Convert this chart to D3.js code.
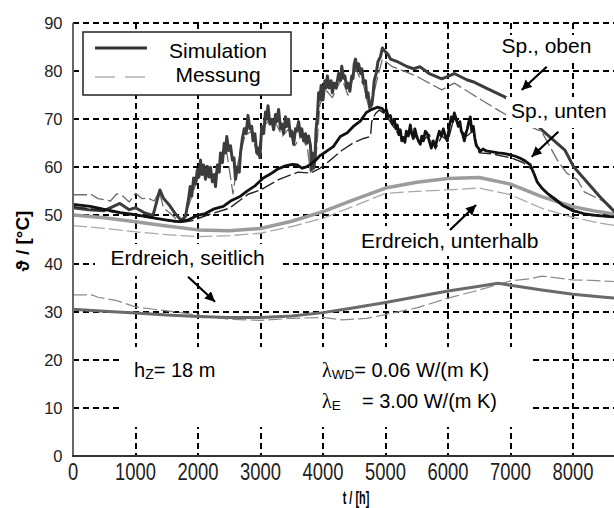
<!DOCTYPE html>
<html lang="de">
<head>
<meta charset="utf-8">
<title>Speicher Temperaturen</title>
<script src="https://d3js.org/d3.v7.min.js"></script>
<style>
  body { margin: 0; background: #fff; }
  svg text { font-family: "Liberation Sans", Arial, sans-serif; fill: #000; }
  .lbl { font-size: 21px; }
</style>
</head>
<body>
<script>
// axis ticks
const xTickVals = [0, 1000, 2000, 3000, 4000, 5000, 6000, 7000, 8000];
const yTickVals = [0, 10, 20, 30, 40, 50, 60, 70, 80, 90];

// [t in h, temperature in °C]
const spObenSim = [[0,51.6],[250,51.2],[500,51.0],[750,52.5],[900,51.2],[1000,51.6],[1150,50.5],[1280,50.0],[1390,55.3],[1450,53.5],[1550,52.0],[1640,50.3],[1730,49.0],[1800,49.8],
  [1850,53.5],[1875,56.0],[1900,54.0],[1930,57.8],[1960,56.5],[1990,59.5],[2015,58.0],[2040,61.5],[2065,58.5],[2090,60.5],[2120,57.5],[2150,60.2],[2180,58.0],[2200,60.0],[2230,57.0],[2260,58.5],[2280,56.0],[2310,60.5],[2340,59.0],[2360,63.0],[2390,61.0],[2420,65.0],[2440,63.0],[2460,66.4],[2490,63.5],[2520,64.5],[2550,61.5],[2575,62.0],[2600,57.5],[2630,60.0],[2660,59.0],[2680,63.0],[2710,66.0],[2740,68.0],[2770,67.0],[2800,70.8],[2830,68.0],[2860,68.5],[2880,65.5],[2910,67.0],[2940,63.0],[2960,64.0],[2990,62.0],[3020,68.5],[3050,67.0],[3080,71.5],[3100,70.0],[3120,72.8],[3150,69.0],[3180,70.0],[3210,67.8],[3240,71.0],[3260,69.5],[3290,72.0],[3320,68.0],[3340,69.0],[3370,67.0],[3400,70.5],[3420,68.5],[3450,70.0],[3480,66.5],[3500,67.5],[3530,64.8],[3560,68.0],[3580,67.5],[3610,69.5],[3640,66.5],[3660,68.0],[3690,65.5],[3720,67.0],[3740,65.0],[3770,66.5],[3800,64.5],[3815,59.5],[3830,63.0],[3850,59.8],[3870,61.5],[3890,68.0],[3910,70.5],[3930,75.5],[3950,74.0],[3970,77.0],[4000,74.0],[4030,78.0],[4050,76.5],[4070,79.0],[4100,76.5],[4130,78.0],[4150,75.5],[4180,77.5],[4210,76.5],[4250,79.5],[4280,78.0],[4300,81.0],[4330,78.5],[4350,79.0],[4380,76.5],[4400,77.5],[4430,75.8],[4460,79.0],[4480,78.5],[4500,81.5],[4520,82.5],[4545,80.5],[4570,81.5],[4600,79.5],[4620,80.5],[4650,77.5],[4680,78.0],[4700,74.5],[4720,75.5],[4750,72.5],[4780,73.0],[4800,75.0],[4820,78.0],[4850,79.5],[4880,82.0],[4920,83.0],[4950,84.8],[5000,84.0],[5040,83.5],[5080,82.5],
  [5200,81.9],[5350,80.9],[5450,80.5],[5550,80.9],[5700,79.5],[5900,78.4],[6000,78.9],[6100,79.5],[6300,78.2],[6400,77.8],[6620,76.4],[6900,74.7],[7050,73.5],[7300,70.5],[7500,67.8],[7870,63.6],[8010,60.1],[8220,57.0],[8430,53.9],[8640,51.1],[8760,49.5]];
const spObenMess = [[0,54.3],[300,54.3],[400,53.5],[600,53.0],[700,54.5],[800,54.0],[900,52.8],[1000,54.6],[1100,53.5],[1200,53.6],[1300,53.0],[1380,55.0],[1450,51.5],[1550,50.5],[1650,49.3],[1750,48.8],
  [1850,52.0],[1950,56.0],[2050,59.5],[2150,58.0],[2250,57.5],[2350,61.0],[2450,64.0],[2560,54.5],[2620,60.0],[2750,66.5],[2850,67.5],[2950,62.5],[3050,68.5],[3150,70.0],[3250,69.0],[3350,66.5],[3450,68.0],[3550,64.5],[3650,66.5],[3750,64.0],[3800,59.0],[3880,60.5],[3950,73.0],[4050,76.0],[4150,74.5],[4300,78.5],[4400,75.0],[4520,80.5],[4650,77.0],[4750,71.5],[4850,77.5],[4950,82.5],
  [5100,81.0],[5300,80.0],[5500,78.9],[5600,78.2],[5800,76.8],[5900,76.1],[6100,77.5],[6400,75.1],[6750,72.3],[7050,70.0],[7500,67.4],[7750,61.5],[7900,58.8],[8070,57.4],[8180,54.9],[8450,53.2],[8760,50.5]];
const spUntenSim = [[0,52.3],[277,51.9],[485,51.3],[757,50.6],[965,50.2],[1285,49.5],[1477,49.1],[1685,48.7],[1830,49.0],[1990,50.0],[2117,50.4],[2245,51.3],[2405,51.9],[2520,53.0],[2680,54.0],[2790,55.1],[2917,56.2],[3045,57.8],[3157,58.6],[3270,59.6],[3397,60.3],[3510,60.6],[3590,60.5],[3670,59.8],[3733,60.1],[3797,60.6],[3893,61.6],[3957,62.5],[4053,63.3],[4165,64.3],[4277,66.4],[4389,67.2],[4485,68.5],[4597,69.6],[4693,71.4],[4773,72.0],[4869,72.5],
  [4949,72.2],[4975,71.5],[5013,72.0],[5045,70.5],[5077,70.8],[5110,69.0],[5141,70.0],[5165,68.0],[5189,68.8],[5213,66.8],[5237,67.8],[5260,65.5],[5285,66.2],[5310,65.2],[5333,67.5],[5365,66.5],[5397,68.8],[5420,67.0],[5445,66.0],[5470,68.0],[5493,66.8],[5525,65.5],[5557,64.8],[5580,66.5],[5605,65.5],[5637,67.5],[5669,67.0],[5700,65.5],[5733,64.0],[5765,65.5],[5797,64.3],[5830,66.0],[5861,67.5],[5893,66.5],[5925,68.0],[5957,66.5],[5989,65.5],[6020,68.5],[6053,70.5],[6077,69.5],[6101,71.3],[6133,70.0],[6165,68.5],[6190,69.5],[6213,67.5],[6237,66.8],[6261,65.5],[6285,67.0],[6309,68.0],[6333,69.5],[6357,70.5],[6380,67.5],[6405,68.5],[6430,66.0],[6453,64.5],[6485,64.0],[6517,63.3],[6560,63.8],[6613,63.4],
  [6709,63.2],[6805,63.0],[6885,62.9],[6997,62.6],[7077,62.3],[7157,61.9],[7237,61.3],[7317,60.5],[7381,58.5],[7429,56.9],[7509,55.6],[7589,54.6],[7717,53.4],[7845,52.0],[8005,51.0],[8165,50.4],[8357,50.0],[8549,49.8],[8760,49.6]];
const spUntenMess = [[0,51.8],[500,51.0],[1000,50.0],[1500,49.0],[1700,48.5],[1900,48.9],[2200,50.3],[2500,51.5],[2800,54.4],[3000,55.3],[3300,57.5],[3600,59.0],[3800,58.8],[3950,59.8],[4100,61.3],[4300,63.5],[4500,65.2],[4650,66.0],[4760,66.4],[4780,69.5],[4840,71.2],[4900,71.9],[5000,71.0],[5100,69.0],[5200,67.0],[5300,66.0],[5400,67.8],[5500,66.0],[5600,65.5],[5700,66.8],[5800,63.8],[5900,66.5],[6000,65.5],[6100,70.5],[6200,67.8],[6300,66.5],[6400,67.5],[6500,63.0],[6700,62.8],[7000,62.0],[7200,61.0],[7350,59.5],[7450,56.5],[7600,54.3],[7800,52.3],[8000,50.8],[8300,50.0],[8760,49.5]];
const unterhalbSim = [[0,50.1],[500,49.5],[1000,48.7],[1500,47.8],[2000,47.0],[2500,46.8],[3000,47.3],[3500,48.8],[4000,50.8],[4500,53.3],[5000,55.7],[5500,56.9],[6000,57.7],[6500,57.9],[7000,56.5],[7500,53.9],[8000,51.8],[8400,50.8],[8760,50.1]];
const unterhalbMess = [[0,47.9],[500,47.3],[1000,46.6],[1500,46.0],[2000,45.6],[2500,45.8],[3000,46.3],[3500,47.7],[4000,49.4],[4500,52.0],[5000,54.6],[5500,55.0],[6000,55.3],[6500,55.7],[7000,54.3],[7500,51.5],[8000,49.6],[8400,48.5],[8760,47.7]];
const seitlichSim = [[0,30.5],[500,30.1],[1000,29.7],[1500,29.3],[2000,29.0],[2500,28.8],[3000,28.8],[3500,29.1],[4000,29.8],[4500,30.8],[5000,31.9],[5500,33.1],[6000,34.3],[6500,35.3],[6800,35.9],[7000,35.5],[7500,34.5],[8000,33.6],[8500,33.0],[8760,32.7]];
const seitlichMess = [[0,33.5],[300,33.5],[400,33.0],[700,32.3],[1000,31.0],[1300,30.5],[1600,30.0],[2000,29.3],[2500,28.4],[3000,28.2],[3500,28.6],[4000,28.8],[4300,28.3],[4700,28.6],[5000,29.4],[5500,30.8],[6000,32.8],[6500,34.5],[7000,36.4],[7300,36.8],[7500,37.4],[7800,36.9],[8000,36.6],[8300,36.5],[8760,36.2]];

const width = 614, height = 508;
const x = d3.scaleLinear().domain([0, 8760]).range([73, 620.5]);
const y = d3.scaleLinear().domain([0, 90]).range([456, 23]);

const svg = d3.select("body").append("svg")
    .attr("width", width)
    .attr("height", height);

const defs = svg.append("defs");
defs.append("clipPath").attr("id", "plot")
  .append("rect").attr("x", 73).attr("y", 20).attr("width", 560).attr("height", 437);
defs.append("marker")
    .attr("id", "head")
    .attr("markerUnits", "userSpaceOnUse")
    .attr("markerWidth", 12).attr("markerHeight", 12)
    .attr("refX", 10).attr("refY", 5)
    .attr("orient", "auto")
  .append("path")
    .attr("d", "M0,0 L10,5 L0,10 Z")
    .attr("fill", "#000");

// dashed grid
let gd = "";
xTickVals.slice(1).forEach(t => { gd += `M${Math.round(x(t))},${y(90)}V${y(0)}`; });
yTickVals.slice(1).forEach(v => { gd += `M${x(0)},${Math.round(y(v))}H${width}`; });
svg.append("path")
    .attr("d", gd)
    .attr("fill", "none")
    .attr("stroke", "#000")
    .attr("stroke-width", 2)
    .attr("stroke-dasharray", "6 4");

// curves
const line = d3.line().x(d => x(d[0])).y(d => y(d[1]));
const series = [
  { data: seitlichMess, color: "#8a8a8a", w: 1.2, dash: "14,4" },
  { data: seitlichSim, color: "#6a6a6a", w: 3, dash: null },
  { data: unterhalbMess, color: "#a8a8a8", w: 1.3, dash: "14,4" },
  { data: unterhalbSim, color: "#9c9c9c", w: 3.5, dash: null },
  { data: spObenMess, color: "#6e6e6e", w: 1.3, dash: "14,4" },
  { data: spObenSim, color: "#3c3c3c", w: 3, dash: null },
  { data: spUntenMess, color: "#222", w: 1.4, dash: "14,4" },
  { data: spUntenSim, color: "#111", w: 2.8, dash: null }
];
svg.append("g").attr("clip-path", "url(#plot)")
  .selectAll("path").data(series).join("path")
    .attr("d", d => line(d.data))
    .attr("fill", "none")
    .attr("stroke", d => d.color)
    .attr("stroke-width", d => d.w)
    .attr("stroke-linejoin", "round")
    .attr("stroke-dasharray", d => d.dash);

// white label boxes
const boxes = [[95, 244, 188, 32], [357, 226, 188, 30], [497, 35, 103, 27], [506, 97, 110, 31], [123, 347, 408, 80]];
svg.append("g").selectAll("rect").data(boxes).join("rect")
    .attr("x", d => d[0]).attr("y", d => d[1])
    .attr("width", d => d[2]).attr("height", d => d[3])
    .attr("fill", "#fff");

// labels
const labels = [["Sp., oben", 501.5, 52.5], ["Sp., unten", 511, 118], ["Erdreich, unterhalb", 361, 248], ["Erdreich, seitlich", 110.5, 265]];
svg.append("g").selectAll("text").data(labels).join("text")
    .attr("class", "lbl")
    .attr("x", d => d[1]).attr("y", d => d[2])
    .text(d => d[0]);

// arrows
const arrows = [[546.7, 66.7, 521.7, 90], [558.3, 131.7, 531.7, 156.7], [450, 230, 476, 205], [188, 276.7, 215, 301.7]];
svg.append("g").selectAll("line").data(arrows).join("line")
    .attr("x1", d => d[0]).attr("y1", d => d[1])
    .attr("x2", d => d[2]).attr("y2", d => d[3])
    .attr("stroke", "#000").attr("stroke-width", 2.2)
    .attr("marker-end", "url(#head)");

// parameters
const hz = svg.append("text").attr("x", 134).attr("y", 377).style("font-size", "20px");
hz.append("tspan").text("h");
hz.append("tspan").attr("dy", 2).style("font-size", "14px").text("Z");
hz.append("tspan").attr("dy", -2).text("= 18 m");

const l1 = svg.append("text").attr("x", 322).attr("y", 377).style("font-size", "20px");
l1.append("tspan").style("font-family", "'Liberation Serif', serif").text("λ");
l1.append("tspan").attr("dy", 2).style("font-size", "13.5px").text("WD");
l1.append("tspan").attr("dy", -2).text("= 0.06 W/(m K)");

const l2 = svg.append("text").attr("x", 322).attr("y", 407.5).style("font-size", "20px");
l2.append("tspan").style("font-family", "'Liberation Serif', serif").text("λ");
l2.append("tspan").attr("dy", 2).style("font-size", "13.5px").text("E");
l2.append("tspan").attr("x", 362).attr("dy", -2).text("= 3.00 W/(m K)");

// legend
const leg = svg.append("g");
leg.append("rect").attr("x", 83).attr("y", 32).attr("width", 208).attr("height", 63)
    .attr("fill", "#fff").attr("stroke", "#222").attr("stroke-width", 1.5);
leg.append("line").attr("x1", 95).attr("x2", 147).attr("y1", 48).attr("y2", 48)
    .attr("stroke", "#333").attr("stroke-width", 3);
leg.append("line").attr("x1", 95).attr("x2", 147).attr("y1", 77).attr("y2", 77)
    .attr("stroke", "#888").attr("stroke-width", 1.2).attr("stroke-dasharray", "20,10");
leg.append("text").attr("class", "lbl").attr("x", 218).attr("y", 58).attr("text-anchor", "middle").text("Simulation");
leg.append("text").attr("class", "lbl").attr("x", 218).attr("y", 82).attr("text-anchor", "middle").text("Messung");

// axes
svg.append("line").attr("x1", 73).attr("x2", 73).attr("y1", 23).attr("y2", 457)
    .attr("stroke", "#666").attr("stroke-width", 2);
svg.append("line").attr("x1", 72).attr("x2", width).attr("y1", 456).attr("y2", 456)
    .attr("stroke", "#333").attr("stroke-width", 2);

svg.append("g").selectAll("text").data(yTickVals).join("text")
    .attr("x", 62.5).attr("y", d => y(d) + 6)
    .attr("text-anchor", "end")
    .style("font-size", "16.5px").style("fill", "#222")
    .text(d => d);

svg.append("g").selectAll("text").data(xTickVals).join("text")
    .attr("transform", d => `translate(${x(d)},480) scale(1,1.28)`)
    .attr("text-anchor", "middle")
    .style("font-size", "18.4px").style("fill", "#222")
    .text(d => d);

svg.append("text")
    .attr("transform", "translate(356,504) scale(0.68,1.1)")
    .attr("text-anchor", "middle")
    .style("font-size", "16px").style("font-weight", "bold")
    .text("t / [h]");

svg.append("text")
    .attr("transform", "translate(29,241) rotate(-90)")
    .attr("text-anchor", "middle")
    .style("font-size", "19px").style("font-weight", "bold")
    .text("ϑ / [°C]");
</script>
</body>
</html>
